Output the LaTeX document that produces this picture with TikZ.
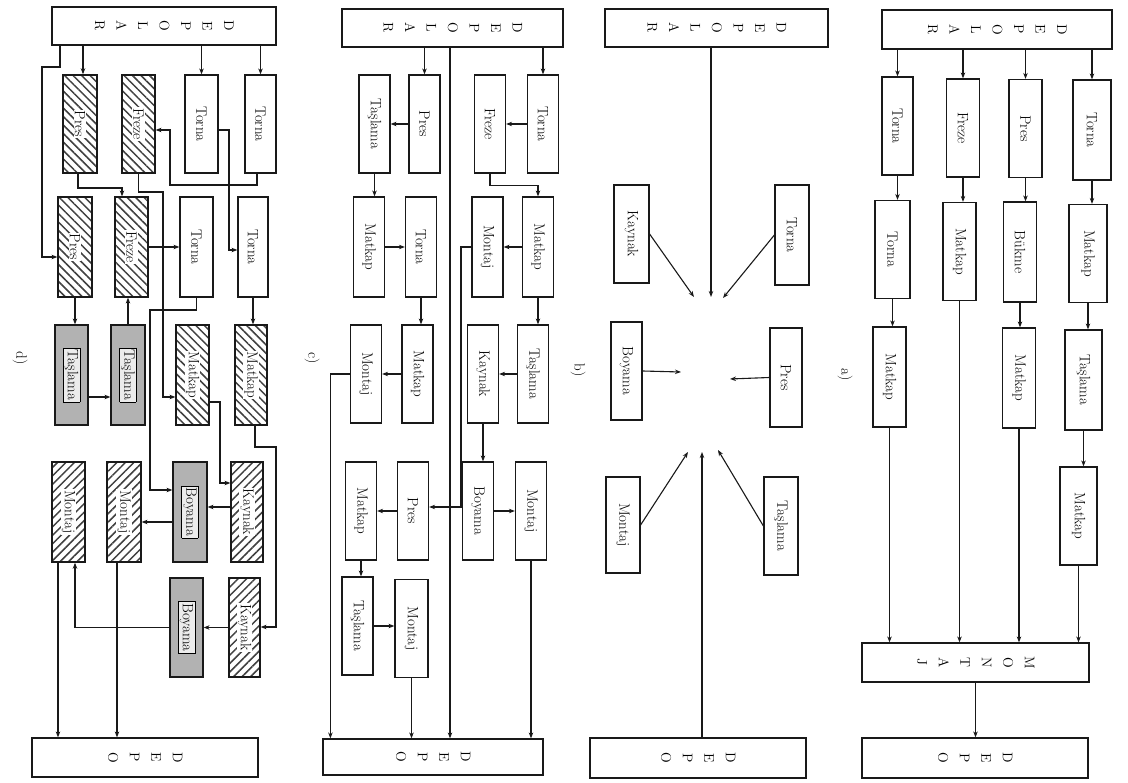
\documentclass[tikz,border=0pt]{standalone}
\usetikzlibrary{arrows.meta,patterns.meta}
\newcommand{\rtx}[1]{\rotatebox{-90}{#1}}
\newcommand{\stk}[1]{\rotatebox{-90}{\begin{tabular}{@{}c@{}}#1\end{tabular}}}
\newcommand{\wtx}[1]{\rotatebox{-90}{\setlength{\fboxsep}{1pt}\colorbox{white}{#1}}}
\newcommand{\gtx}[1]{\rotatebox{-90}{\setlength{\fboxsep}{1.5pt}\fcolorbox{black}{gray!15}{#1}}}
\begin{document}
\begin{tikzpicture}[x=1pt,y=-1pt,
  box/.style={draw=black!90, line width=1.2pt, minimum width=33pt, minimum height=98pt, inner sep=0pt, font=\fontsize{15}{18}\selectfont},
  cbox/.style={box, minimum width=31pt},
  wide/.style={draw=black!90, line width=1.2pt, inner sep=0pt, font=\fontsize{14}{21.5}\selectfont},
  hA/.style={box, pattern={Lines[angle=-45,distance=6pt,line width=1.5pt]}, pattern color=black!75},
  hB/.style={box, pattern={Lines[angle=45,distance=6pt,line width=1.5pt]}, pattern color=black!75},
  gb/.style={box, fill=gray!60},
  arr/.style={line width=1.1pt, draw=black!90, -{Stealth[length=6pt,width=4.5pt]}},
  lab/.style={font=\fontsize{15}{18}\selectfont, inner sep=0pt}]
\useasboundingbox (0,0) rectangle (1128,783);
\fill[white] (0,0) rectangle (1128,783);

% ---------------- panel a ----------------
\node[wide, minimum width=230pt, minimum height=39pt] (a0) at (997,29.5) {\stk{D\\E\\P\\O\\L\\A\\R}};
\node[box, minimum width=31pt] (a11) at (897.5,126) {\rtx{Torna}};
\node[box] (a12) at (963,128) {\rtx{Freze}};
\node[box] (a13) at (1025.5,128.5) {\rtx{Pres}};
\node[box, minimum width=38pt, minimum height=100pt] (a14) at (1092,130) {\rtx{Torna}};
\node[box, minimum width=35pt] (a21) at (892.5,249.5) {\rtx{Torna}};
\node[box] (a22) at (959.5,251.5) {\rtx{Matkap}};
\node[box, minimum height=100pt] (a23) at (1020,252) {\rtx{Bükme}};
\node[box, minimum width=38pt] (a24) at (1088,253.5) {\rtx{Matkap}};
\node[box, minimum height=100pt] (a31) at (889.5,377) {\rtx{Matkap}};
\node[box, minimum height=100pt] (a33) at (1019,378) {\rtx{Matkap}};
\node[box, minimum width=37pt, minimum height=100pt] (a34) at (1083.5,380) {\rtx{Taşlama}};
\node[box, minimum width=37pt] (a44) at (1078.5,516) {\rtx{Matkap}};
\node[wide, minimum width=227pt, minimum height=39pt] (aM) at (975.5,662.5) {\stk{M\\O\\N\\T\\A\\J}};
\node[wide, minimum width=226pt, minimum height=40pt] (aD) at (975,758) {\stk{D\\E\\P\\O}};
\node[lab] (la) at (845,375) {\rtx{a)}};

\foreach \n in {a11,a12,a13,a14} \draw[arr] (a0.south -| \n) -- (\n.north);
\draw[arr] (a11.south) -- (a11.south |- a21.north);
\draw[arr] (a12.south) -- (a12.south |- a22.north);
\draw[arr] (a13.south) -- (a13.south |- a23.north);
\draw[arr] (a14.south) -- (a14.south |- a24.north);
\draw[arr] (a21.south) -- (a21.south |- a31.north);
\draw[arr] (a23.south) -- (a23.south |- a33.north);
\draw[arr] (a24.south) -- (a24.south |- a34.north);
\draw[arr] (a34.south) -- (a34.south |- a44.north);
\foreach \n in {a31,a22,a33,a44} \draw[arr] (\n.south) -- (\n.south |- aM.north);
\draw[arr] (aM.south) -- (aM.south |- aD.north);

% ---------------- panel b ----------------
\node[wide, minimum width=223pt, minimum height=38pt] (b0) at (716.5,28) {\stk{D\\E\\P\\O\\L\\A\\R}};
\node[box, minimum width=34pt, minimum height=100pt] (bT) at (792,235) {\rtx{Torna}};
\node[box, minimum width=35pt] (bK) at (631.5,234) {\rtx{Kaynak}};
\node[box, minimum width=31pt] (bB) at (626.5,371) {\rtx{Boyama}};
\node[box, minimum width=32pt, minimum height=99pt] (bP) at (786,377.5) {\rtx{Pres}};
\node[box, minimum width=34pt, minimum height=96pt] (bM) at (623,525) {\rtx{Montaj}};
\node[box, minimum width=34pt] (bS) at (781,526) {\rtx{Taşlama}};
\node[wide, minimum width=216pt, minimum height=40pt] (bD) at (698,758) {\stk{D\\E\\P\\O}};
\node[lab] (lb) at (578,370) {\rtx{b)}};
\coordinate (bt1) at (711,297);
\coordinate (bt2) at (694,297);
\coordinate (bt3) at (723,298);
\coordinate (bm1) at (681,372);
\coordinate (bm2) at (730,379);
\coordinate (bb1) at (688,452);
\coordinate (bb2) at (702,452);
\coordinate (bb3) at (718,450);
\draw[arr] (b0.south -| bt1) -- (bt1);
\draw[arr] (bK.east) -- (bt2);
\draw[arr] (bT.west) -- (bt3);
\draw[arr] (bB.east) -- (bm1);
\draw[arr] (bP.west) -- (bm2);
\draw[arr] (bM.east) -- (bb1);
\draw[arr] (bD.north -| bb2) -- (bb2);
\draw[arr] (bS.west) -- (bb3);

% ---------------- panel c ----------------
\node[wide, minimum width=221pt, minimum height=38pt] (c0) at (452.5,28) {\stk{D\\E\\P\\O\\L\\A\\R}};
\node[cbox] (c11) at (374.5,124) {\rtx{Taşlama}};
\node[cbox] (c12) at (424.5,124) {\rtx{Pres}};
\node[cbox] (c13) at (490,124) {\rtx{Freze}};
\node[cbox] (c14) at (543,124) {\rtx{Torna}};
\node[cbox, minimum height=100pt] (c21) at (369,247) {\rtx{Matkap}};
\node[cbox, minimum height=100pt] (c22) at (421,247) {\rtx{Torna}};
\node[cbox, minimum height=100pt] (c23) at (487.5,247) {\rtx{Montaj}};
\node[cbox, minimum height=100pt] (c24) at (538,247) {\rtx{Matkap}};
\node[cbox] (c31) at (366,374) {\rtx{Montaj}};
\node[cbox] (c32) at (417.5,374) {\rtx{Matkap}};
\node[cbox] (c33) at (483,374) {\rtx{Kaynak}};
\node[cbox] (c34) at (533,374) {\rtx{Taşlama}};
\node[cbox] (c41) at (361,511) {\rtx{Matkap}};
\node[cbox] (c42) at (413,511) {\rtx{Pres}};
\node[cbox] (c43) at (478,511) {\rtx{Boyama}};
\node[cbox] (c44) at (531,511) {\rtx{Montaj}};
\node[cbox] (c51) at (357.5,626) {\rtx{Taşlama}};
\node[cbox, minimum width=33pt] (c52) at (411.5,628.5) {\rtx{Montaj}};
\node[wide, minimum width=220pt, minimum height=36pt] (cD) at (433,757) {\stk{D\\E\\P\\O}};
\node[lab] (lc) at (312,358) {\rtx{c)}};

\draw[arr] (c0.south -| c14) -- (c14.north);
\draw[arr] (c0.south -| c12) -- (c12.north);
\draw[arr] (c0.south -| 450,0) -- (cD.north -| 450,0);
\draw[arr] (c14.west) -- (c13.east);
\draw[arr] (c12.west) -- (c11.east);
\draw[arr] (c13.south) -- ++(0,12) -| (c24.north);
\draw[arr] (c24.west) -- (c23.east);
\draw[arr] (c11.south) -- (c11.south |- c21.north);
\draw[arr] (c21.east) -- (c22.west);
\draw[arr] (c23.west) -- (461,247) -- (461,507) -- (c42.east |- 461,507);
\draw[arr] (c24.south) -- (c24.south |- c34.north);
\draw[arr] (c22.south) -- (c22.south |- c32.north);
\draw[arr] (c34.west) -- (c33.east);
\draw[arr] (c32.west) -- (c31.east);
\draw[arr] (c31.west) -| ([xshift=8pt]cD.north west);
\draw[arr] (c33.south) -- (c33.south |- c43.north);
\draw[arr] (c43.east) -- (c44.west);
\draw[arr] (c42.west) -- (c41.east);
\draw[arr] (c44.south) -- (c44.south |- cD.north);
\draw[arr] (c41.south) -- (c41.south |- c51.north);
\draw[arr] (c51.east) -- (c51.east -| c52.west);
\draw[arr] (c52.south) -- (c52.south |- cD.north);

% ---------------- panel d ----------------
\node[wide, minimum width=224pt, minimum height=38pt] (d0) at (164,26) {\stk{D\\E\\P\\O\\L\\A\\R}};
\node[hA, minimum width=34pt] (d11) at (80,124) {\wtx{Pres}};
\node[hA] (d12) at (138.5,124) {\wtx{Freze}};
\node[box] (d13) at (201.5,124) {\rtx{Torna}};
\node[box, minimum width=31pt] (d14) at (260.5,124) {\rtx{Torna}};
\node[hA, minimum width=34pt, minimum height=100pt] (d21) at (75,247) {\wtx{Pres}};
\node[hA, minimum height=100pt] (d22) at (131.5,247) {\wtx{Freze}};
\node[box, minimum height=100pt] (d23) at (196.5,247) {\rtx{Torna}};
\node[box, minimum width=30pt, minimum height=100pt] (d24) at (253,247) {\rtx{Torna}};
\node[gb, minimum height=100pt] (d31) at (71.5,375) {\gtx{Taşlama}};
\node[gb, minimum width=34pt, minimum height=100pt] (d32) at (128,375) {\gtx{Taşlama}};
\node[hA, minimum height=100pt] (d33) at (192.5,375) {\wtx{Matkap}};
\node[hA, minimum width=32pt, minimum height=100pt] (d34) at (251,375) {\wtx{Matkap}};
\node[hB, minimum height=100pt] (d41) at (68.5,512) {\wtx{Montaj}};
\node[hB, minimum width=34pt, minimum height=100pt] (d42) at (124,512) {\wtx{Montaj}};
\node[gb, minimum width=34pt, minimum height=100pt] (d43) at (190,512) {\gtx{Boyama}};
\node[hB, minimum width=32pt, minimum height=100pt] (d44) at (247,512) {\wtx{Kaynak}};
\node[gb, minimum height=99pt] (d53) at (186.5,627.5) {\gtx{Boyama}};
\node[hB, minimum width=31pt, minimum height=99pt] (d54) at (244.5,627.5) {\wtx{Kaynak}};
\node[wide, minimum width=226pt, minimum height=39pt] (dD) at (145,757.5) {\stk{D\\E\\P\\O}};
\node[lab] (ld) at (20,358) {\rtx{d)}};

\draw[arr] (d0.south -| d14) -- (d14.north);
\draw[arr] (d0.south -| d13) -- (d13.north);
\draw[arr] (d0.south -| 83,0) -- (d11.north -| 83,0);
\draw[arr] (d0.south -| 60,0) -- (60,67) -- (42,67) -- (42,257) -- (d21.west |- 42,257);
\draw[arr] (d14.south -| 257,0) -- (257,185) -- (170,185) -- (170,130) -- (d12.east |- 170,130);
\draw[arr] (d13.east |- 0,130) -- (229,130) -- (229,250) -- (d24.west |- 0,250);
\draw[arr] (d11.south -| 78,0) -- (78,188) -- (122,188) -- (d22.north -| 122,0);
\draw[arr] (d12.south) -- (138.5,192) -- (163,192) -- (163,397) -- (d33.west |- 0,397);
\draw[arr] (d22.east) -- (d23.west);
\draw[arr] (d23.south) -- (196.5,310) -- (150,310) -- (150,490) -- (d43.west |- 0,490);
\draw[arr] (d24.south) -- (d24.south |- d34.north);
\draw[arr] (d21.south) -- (d21.south |- d31.north);
\draw[arr] (d32.north) -- (d32.north |- d22.south);
\draw[arr] (d31.east |- 0,397) -- (d32.west |- 0,397);
\draw[arr] (d33.east |- 0,402) -- (220,402) -- (220,483) -- (d44.west |- 0,483);
\draw[arr] (d34.south -| 255,0) -- (255,447) -- (276,447) -- (276,627) -- (d54.east |- 0,627);
\draw[arr] (d44.west |- 0,507) -- (d43.east |- 0,507);
\draw[arr] (d43.west |- 0,522) -- (d42.east |- 0,522);
\draw[arr] (d54.west) -- (d53.east);
\draw[arr] (d53.west) -- (75,627.5) -- (d41.south -| 75,0);
\draw[arr] (d41.south -| 58,0) -- (dD.north -| 58,0);
\draw[arr] (d42.south -| 117,0) -- (dD.north -| 117,0);
\end{tikzpicture}
\end{document}
